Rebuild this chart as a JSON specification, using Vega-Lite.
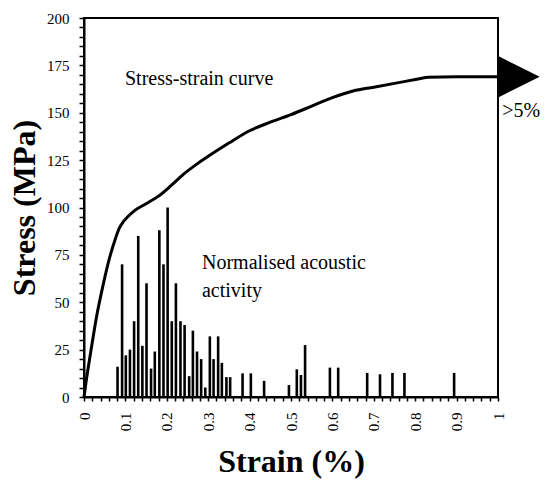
{
  "$schema": "https://vega.github.io/schema/vega-lite/v6.json",
  "width": 414,
  "height": 379,
  "autosize": "none",
  "padding": {"left": 84, "top": 18, "right": 55, "bottom": 83},
  "background": "white",
  "config": {
    "view": {"stroke": "black", "strokeWidth": 2},
    "font": "Liberation Serif",
    "axis": {
      "grid": false,
      "domainColor": "black",
      "domainWidth": 2,
      "tickColor": "black",
      "tickWidth": 1.5,
      "labelFont": "Liberation Serif",
      "labelFontSize": 15,
      "labelColor": "black",
      "titleFont": "Liberation Serif",
      "titleFontWeight": "bold",
      "titleFontSize": 32,
      "titleColor": "black",
      "labelBound": false,
      "labelFlush": false
    }
  },
  "datasets": {
    "activity": [
      {"strain": 0.081, "ae": 16},
      {"strain": 0.092, "ae": 70},
      {"strain": 0.101, "ae": 22},
      {"strain": 0.111, "ae": 25},
      {"strain": 0.121, "ae": 40},
      {"strain": 0.131, "ae": 85},
      {"strain": 0.141, "ae": 27},
      {"strain": 0.151, "ae": 60},
      {"strain": 0.162, "ae": 15},
      {"strain": 0.171, "ae": 24},
      {"strain": 0.182, "ae": 88},
      {"strain": 0.192, "ae": 70},
      {"strain": 0.202, "ae": 100},
      {"strain": 0.212, "ae": 40},
      {"strain": 0.222, "ae": 60},
      {"strain": 0.233, "ae": 40},
      {"strain": 0.243, "ae": 38},
      {"strain": 0.254, "ae": 11},
      {"strain": 0.263, "ae": 35},
      {"strain": 0.273, "ae": 24},
      {"strain": 0.283, "ae": 20},
      {"strain": 0.293, "ae": 5},
      {"strain": 0.304, "ae": 32},
      {"strain": 0.313, "ae": 20},
      {"strain": 0.324, "ae": 32},
      {"strain": 0.333, "ae": 18},
      {"strain": 0.344, "ae": 10.5},
      {"strain": 0.353, "ae": 10.5},
      {"strain": 0.383, "ae": 12.5},
      {"strain": 0.403, "ae": 12.5},
      {"strain": 0.435, "ae": 8.5},
      {"strain": 0.495, "ae": 6.3},
      {"strain": 0.514, "ae": 14.6},
      {"strain": 0.524, "ae": 11.6},
      {"strain": 0.534, "ae": 27.4},
      {"strain": 0.594, "ae": 15.5},
      {"strain": 0.614, "ae": 15.5},
      {"strain": 0.684, "ae": 12.7},
      {"strain": 0.715, "ae": 12},
      {"strain": 0.745, "ae": 12.7},
      {"strain": 0.774, "ae": 12.7},
      {"strain": 0.894, "ae": 12.7}
    ],
    "curve": [
      {"strain": 0, "stress": 0},
      {"strain": 0.005, "stress": 8},
      {"strain": 0.015, "stress": 22},
      {"strain": 0.03, "stress": 42},
      {"strain": 0.045, "stress": 58},
      {"strain": 0.06, "stress": 72},
      {"strain": 0.075, "stress": 83},
      {"strain": 0.085, "stress": 89},
      {"strain": 0.095, "stress": 92.5},
      {"strain": 0.105, "stress": 95},
      {"strain": 0.12, "stress": 98},
      {"strain": 0.15, "stress": 102},
      {"strain": 0.18, "stress": 106},
      {"strain": 0.21, "stress": 111.5},
      {"strain": 0.24, "stress": 117.5},
      {"strain": 0.27, "stress": 122.5},
      {"strain": 0.3, "stress": 127},
      {"strain": 0.35, "stress": 134},
      {"strain": 0.4, "stress": 140.5},
      {"strain": 0.45, "stress": 145},
      {"strain": 0.5, "stress": 149},
      {"strain": 0.55, "stress": 153.5},
      {"strain": 0.6, "stress": 158},
      {"strain": 0.65, "stress": 161.5},
      {"strain": 0.7, "stress": 163.5},
      {"strain": 0.75, "stress": 165.5},
      {"strain": 0.8, "stress": 167.5},
      {"strain": 0.83, "stress": 168.7},
      {"strain": 0.9, "stress": 169},
      {"strain": 1.0, "stress": 169}
    ],
    "arrow": [{"strain": 1.05, "stress": 169}],
    "labels": [
      {"strain": 0.099, "stress": 164.9, "text": "Stress-strain curve"},
      {"strain": 0.285, "stress": 67.8, "text": "Normalised acoustic"},
      {"strain": 0.285, "stress": 53, "text": "activity"},
      {"strain": 1.01, "stress": 148, "text": ">5%"}
    ]
  },
  "encoding": {
    "x": {
      "field": "strain",
      "type": "quantitative",
      "scale": {"domain": [0, 1], "nice": false},
      "axis": {
        "title": "Strain (%)",
        "values": [0, 0.02, 0.04, 0.06, 0.08, 0.1, 0.12, 0.14, 0.16, 0.18, 0.2, 0.22, 0.24, 0.26, 0.28, 0.3, 0.32, 0.34, 0.36, 0.38, 0.4, 0.42, 0.44, 0.46, 0.48, 0.5, 0.52, 0.54, 0.56, 0.58, 0.6, 0.62, 0.64, 0.66, 0.68, 0.7, 0.72, 0.74, 0.76, 0.78, 0.8, 0.82, 0.84, 0.86, 0.88, 0.9, 0.92, 0.94, 0.96, 0.98, 1],
        "labelExpr": "abs(round(datum.value*10) - datum.value*10) < 0.001 ? format(datum.value, '~g') : ''",
        "labelAngle": -90,
        "labelAlign": "right",
        "labelBaseline": "middle",
        "labelOverlap": false,
        "tickSize": 4,
        "labelPadding": 11,
        "titlePadding": 16
      }
    },
    "y": {
      "field": "stress",
      "type": "quantitative",
      "scale": {"domain": [0, 200], "nice": false},
      "axis": {
        "title": "Stress (MPa)",
        "values": [0, 5, 10, 15, 20, 25, 30, 35, 40, 45, 50, 55, 60, 65, 70, 75, 80, 85, 90, 95, 100, 105, 110, 115, 120, 125, 130, 135, 140, 145, 150, 155, 160, 165, 170, 175, 180, 185, 190, 195, 200],
        "labelExpr": "datum.value % 25 == 0 ? datum.label : ''",
        "labelOverlap": false,
        "tickSize": 5,
        "labelPadding": 10,
        "titlePadding": 5
      }
    }
  },
  "layer": [
    {
      "data": {"name": "activity"},
      "mark": {"type": "rule", "color": "black", "strokeWidth": 2.6},
      "encoding": {
        "y": {
          "field": "ae",
          "type": "quantitative",
          "scale": {"domain": [0, 200], "nice": false},
          "axis": {
            "title": "Stress (MPa)",
            "values": [0, 5, 10, 15, 20, 25, 30, 35, 40, 45, 50, 55, 60, 65, 70, 75, 80, 85, 90, 95, 100, 105, 110, 115, 120, 125, 130, 135, 140, 145, 150, 155, 160, 165, 170, 175, 180, 185, 190, 195, 200],
            "labelExpr": "datum.value % 25 == 0 ? datum.label : ''",
            "labelOverlap": false,
            "tickSize": 5,
            "labelPadding": 10,
            "titlePadding": 5
          }
        },
        "y2": {"datum": 0}
      }
    },
    {
      "data": {"name": "curve"},
      "mark": {"type": "line", "color": "black", "strokeWidth": 3, "interpolate": "monotone"}
    },
    {
      "data": {"name": "arrow"},
      "mark": {"type": "point", "shape": "M-1,-1L1,0L-1,1Z", "filled": true, "color": "black", "opacity": 1, "size": 1764}
    },
    {
      "data": {"name": "labels"},
      "mark": {"type": "text", "align": "left", "baseline": "alphabetic", "font": "Liberation Serif", "fontSize": 20, "color": "black"},
      "encoding": {
        "text": {"field": "text"}
      }
    }
  ]
}
